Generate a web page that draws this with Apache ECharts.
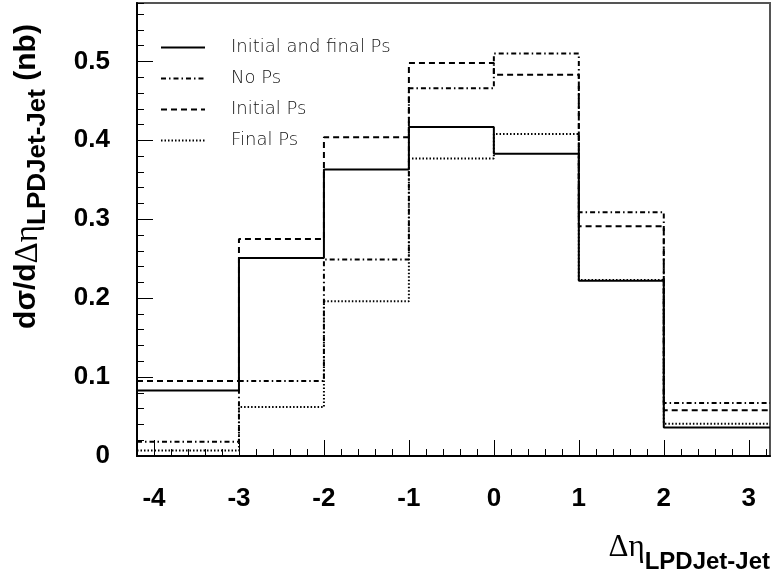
<!DOCTYPE html>
<html>
<head>
<meta charset="utf-8">
<script src="https://cdn.jsdelivr.net/npm/echarts@6/dist/echarts.min.js"></script>
<style>
  html, body { margin: 0; padding: 0; background: #fff; }
  #chart { width: 773px; height: 581px; }
</style>
</head>
<body>
<div id="chart"></div>
<script>
// ---- Data ----
const binEdges = [-4.2, -3, -2, -1, 0, 1, 2, 3.25];
const initialAndFinalPs = [0.083, 0.251, 0.363, 0.417, 0.383, 0.222, 0.036];
const noPs             = [0.018, 0.095, 0.249, 0.466, 0.510, 0.309, 0.067];
const initialPs        = [0.095, 0.275, 0.404, 0.498, 0.483, 0.291, 0.058];
const finalPs          = [0.007, 0.062, 0.196, 0.377, 0.408, 0.223, 0.041];
const seriesNames = ['Initial and final Ps', 'No Ps', 'Initial Ps', 'Final Ps'];
const xTickLabels = [-4, -3, -2, -1, 0, 1, 2, 3];
const yTickLabels = [0, 0.1, 0.2, 0.3, 0.4, 0.5];

function stepData(vals) {
  return binEdges.map((x, i) => [x, vals[Math.min(i, vals.length - 1)]]);
}

const labelFont = { fontFamily: 'Liberation Sans, Arial, sans-serif', fontWeight: 'bold', fontSize: 26, color: '#000' };
const styles = [
  { type: 'solid' },
  { type: [5, 3, 1.5, 3] },
  { type: [6, 4] },
  { type: [1.5, 2] }
];
const datasets = [initialAndFinalPs, noPs, initialPs, finalPs];

const chart = echarts.init(document.getElementById('chart'), null, { renderer: 'canvas' });
chart.setOption({
  animation: false,
  backgroundColor: '#fff',
  grid: { left: 137, right: 1, top: 3, bottom: 125, show: true, borderColor: '#555', borderWidth: 2, containLabel: false },
  legend: {
    orient: 'vertical', left: 160, top: 38.5, padding: 0,
    itemWidth: 44, itemHeight: 14, itemGap: 13,
    data: seriesNames,
    itemStyle: { opacity: 0, borderWidth: 0 },
    textStyle: { fontFamily: 'DejaVu Sans, sans-serif', fontWeight: 200, fontSize: 18, color: '#111', padding: [0, 0, 0, 21], lineHeight: 14 }
  },
  xAxis: [
    {
      type: 'value', min: binEdges[0], max: binEdges[binEdges.length - 1], interval: 0.2,
      axisLine: { show: true, onZero: false, lineStyle: { color: '#000', width: 2 } },
      axisTick: { show: true, inside: true, length: 7, lineStyle: { color: '#000', width: 1 } },
      axisLabel: Object.assign({
        margin: 30, showMinLabel: false, showMaxLabel: false,
        formatter: v => (Math.abs(v - Math.round(v)) < 1e-6 && xTickLabels.includes(Math.round(v))) ? String(Math.round(v)) : ''
      }, labelFont),
      splitLine: { show: false },
      name: '{g|Δη}{s|LPDJet-Jet}',
      nameLocation: 'end', nameGap: 0,
      nameTextStyle: {
        align: 'right', verticalAlign: 'top', padding: [76, 0, 0, 0],
        rich: {
          g: { fontFamily: 'Liberation Serif, serif', fontSize: 31, lineHeight: 34, verticalAlign: 'top', color: '#000' },
          s: { fontFamily: 'Liberation Sans, Arial, sans-serif', fontWeight: 'bold', fontSize: 24, lineHeight: 42, verticalAlign: 'bottom', color: '#000' }
        }
      }
    },
    {
      type: 'value', min: binEdges[0], max: binEdges[binEdges.length - 1], position: 'bottom',
      axisLine: { show: false, onZero: false },
      axisTick: { show: true, inside: true, length: 16, customValues: xTickLabels, lineStyle: { color: '#000', width: 1 } },
      axisLabel: { show: false },
      splitLine: { show: false }
    }
  ],
  yAxis: [
    {
      type: 'value', min: 0, max: 0.574, interval: 0.1,
      axisLine: { show: true, onZero: false, lineStyle: { color: '#000', width: 2 } },
      axisTick: { show: true, inside: true, length: 16, lineStyle: { color: '#000', width: 1 } },
      axisLabel: Object.assign({
        margin: 27, showMaxLabel: false,
        formatter: v => yTickLabels.some(t => Math.abs(t - v) < 1e-9) ? String(Math.round(v * 10) / 10) : ''
      }, labelFont),
      splitLine: { show: false },
      name: '{b|dσ/d}{g|Δη}{s|LPDJet-Jet}{b| (nb)}',
      nameLocation: 'middle', nameRotate: 90, nameGap: 86,
      nameTextStyle: {
        padding: [0, 0, 0, 106],
        rich: {
          b: { fontFamily: 'Liberation Sans, Arial, sans-serif', fontWeight: 'bold', fontSize: 30, lineHeight: 30, verticalAlign: 'top', color: '#000' },
          g: { fontFamily: 'Liberation Serif, serif', fontSize: 33, lineHeight: 30, verticalAlign: 'top', color: '#000' },
          s: { fontFamily: 'Liberation Sans, Arial, sans-serif', fontWeight: 'bold', fontSize: 26, lineHeight: 39, verticalAlign: 'bottom', color: '#000' }
        }
      }
    },
    {
      type: 'value', min: 0, max: 0.574, interval: 0.02, position: 'left',
      axisLine: { show: false, onZero: false },
      axisTick: { show: true, inside: true, length: 7, lineStyle: { color: '#000', width: 1 } },
      axisLabel: { show: false },
      splitLine: { show: false }
    }
  ],
  series: datasets.map((vals, i) => ({
    name: seriesNames[i],
    type: 'line',
    step: 'end',
    symbol: 'none',
    xAxisIndex: 0, yAxisIndex: 0,
    data: stepData(vals),
    lineStyle: { color: '#000', width: 2, type: styles[i].type, cap: 'butt' },
    itemStyle: { color: '#000' },
    z: 10 - i
  }))
});
</script>
</body>
</html>
